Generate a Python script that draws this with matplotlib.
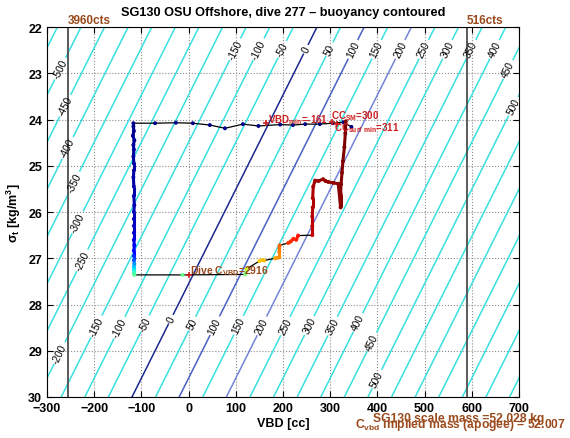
import numpy as np
import matplotlib
matplotlib.use("Agg")
import matplotlib.pyplot as plt
from matplotlib.collections import LineCollection

plt.rcParams['font.family'] = ['Liberation Sans', 'DejaVu Sans']
plt.rcParams['mathtext.fontset'] = 'custom'
plt.rcParams['mathtext.rm'] = 'Liberation Sans'
plt.rcParams['mathtext.bf'] = 'Liberation Sans:bold'
plt.rcParams['mathtext.default'] = 'bf'

# dive track: VBD [cc], sigma_t [kg/m^3], elapsed time [min]
surf_vbd = [345, 328, 305, 278, 247, 221, 194, 148, 115, 77, 45, 9, -27, -71, -117]
surf_sig = [24.16, 24.06, 24.08, 24.10, 24.10, 24.12, 24.11, 24.14, 24.10, 24.19, 24.12, 24.08, 24.07, 24.08, 24.08]
surf_t = [0, 0.2, 0.4, 0.6, 0.8, 1.0, 1.2, 1.4, 1.6, 1.8, 2.0, 2.2, 2.4, 2.6, 2.8]

desc_vbd = [-117, -116, -118, -115, -117, -116, -117, -116, -116, -117, -116, -116, -115, -116,
            -116, -116, -116, -116, -115, -116, -116, -116, -115, -116, -116, -115, -116, -115]
desc_sig = [24.15, 24.25, 24.35, 24.45, 24.55, 24.65, 24.8, 24.95, 25.1, 25.25, 25.45, 25.65, 25.85, 26.0,
            26.15, 26.3, 26.45, 26.6, 26.72, 26.84, 26.95, 27.04, 27.12, 27.19, 27.25, 27.3, 27.33, 27.36]
desc_t = [3, 3.5, 4, 4.5, 5, 5.5, 6, 6.5, 7, 7.5, 8, 8.5, 9, 10,
          11, 12, 14, 17, 21, 26, 33, 42, 54, 64, 72, 80, 86, 92]

apo_vbd = [-13, 120]
apo_sig = [27.36, 27.35]
apo_t = [95, 100]

climb_vbd = [123, 150, 156, 160, 183, 188, 192, 192, 192, 193, 211, 216, 222, 228, 232,
             262, 262, 262, 263, 263, 264, 268, 275, 285, 290, 296, 307, 317,
             322, 322, 323, 325, 327, 330, 332, 333]
climb_sig = [27.23, 27.06, 27.04, 27.05, 27.0, 26.99, 26.98, 26.86, 26.78, 26.72, 26.67, 26.64, 26.58, 26.6, 26.51,
             26.5, 26.3, 26.1, 25.9, 25.7, 25.45, 25.32, 25.33, 25.29, 25.33, 25.35, 25.37, 25.39,
             25.9, 25.6, 25.4, 25.15, 24.9, 24.6, 24.3, 24.04]
climb_t = [120, 138, 140, 142, 148, 150, 152, 155, 158, 161, 170, 172, 174, 176, 178,
           188, 189, 190, 191, 192, 193, 194, 194.5, 195, 195.5, 196, 196.5, 197,
           197.5, 198, 198.5, 199, 199.3, 199.6, 199.8, 200]

title = 'SG130 OSU Offshore, dive 277 \u2013 buoyancy contoured'
brown = '#9a4a1c'
red = '#cc1f1f'

fig = plt.figure(figsize=(5.7, 4.39), dpi=100)
ax = fig.add_axes([0.0825, 0.0934, 0.828, 0.8428])
ax.set_xlim(-300, 700)
ax.set_ylim(30, 22)

# buoyancy field (g) over VBD and density
vv, ss = np.meshgrid(np.linspace(-450, 850, 261), np.linspace(20.5, 31.5, 111))
buoy = vv + 120 - 49.0 * (30 - ss)
levels = np.arange(-650, 901, 50)
cols = []
for lv in levels:
    if lv == 0:
        cols.append('#1b2a8e')
    elif lv == 100:
        cols.append('#4a5ec8')
    elif lv == 200:
        cols.append('#7483d8')
    else:
        cols.append('#38e0e0')
cs = ax.contour(vv, ss, buoy, levels=levels, colors=cols, linewidths=1.1)

label_pos = [(-272, 22.9), (-262, 23.7), (-251, 24.64), (-245, 25.35), (-236, 26.22), (-230, 27.02),
             (-262, 29.11),
             (98, 22.48), (148, 22.48), (198, 22.48), (248, 22.48), (298, 22.48), (348, 22.48),
             (398, 22.48), (448, 22.48), (498, 22.48), (548, 22.48), (598, 22.48), (648, 22.48),
             (675, 22.91), (687, 23.71),
             (-192, 28.49), (-141, 28.53), (-92, 28.42), (-39, 28.31), (9, 28.42), (56, 28.46),
             (109, 28.46), (155, 28.46), (204, 28.46), (257, 28.46), (304, 28.46), (357, 28.38),
             (389, 28.81), (399, 29.61)]
ax.clabel(cs, manual=label_pos, fmt='%d', fontsize=7.3,
          colors='k', inline=True, inline_spacing=2)

ax.grid(True, linestyle=':', color='0.55', linewidth=0.8)

# limits of the VBD pot
ax.axvline(-255, color='0.3', lw=1.3)
ax.axvline(590, color='0.3', lw=1.3)
ax.text(-255, 21.97, '3960cts', color=brown, fontsize=8.5, fontweight='bold', va='bottom')
ax.text(590, 21.97, '516cts', color=brown, fontsize=8.5, fontweight='bold', va='bottom')

# track
vbd = np.array(surf_vbd + desc_vbd + apo_vbd + climb_vbd, dtype=float)
sig = np.array(surf_sig + desc_sig + apo_sig + climb_sig, dtype=float)
tt = np.array(surf_t + desc_t + apo_t + climb_t, dtype=float)
norm = plt.Normalize(0, 200)
cmap = plt.get_cmap('jet')
ax.plot(vbd, sig, color='k', lw=0.9, zorder=4)
pts = np.column_stack([vbd, sig])
segs = np.stack([pts[:-1], pts[1:]], axis=1)
near = np.abs(np.diff(vbd)) < 15
lc = LineCollection(segs[near], colors=cmap(norm(tt[:-1][near])), linewidths=2.2, zorder=5)
ax.add_collection(lc)
ax.scatter(vbd, sig, c=tt, cmap=cmap, norm=norm, s=8, zorder=6, edgecolors='none')

# markers and annotations
ax.plot([164], [24.08], '+', color=red, ms=5, mew=1.2, zorder=7)
ax.plot([303], [24.06], '+', color=red, ms=5, mew=1.2, zorder=7)
ax.plot([314], [24.1], '+', color=red, ms=5, mew=1.2, zorder=7)
ax.plot([1.5], [27.37], '+', color=red, ms=5, mew=1.2, zorder=7)
ax.text(169, 24.06, r'VBD$_{min}$=-161', color=red, fontsize=7, fontweight='bold', zorder=8)
ax.text(301, 23.97, r'CC$_{SM}$=300', color=red, fontsize=7, fontweight='bold', zorder=8)
ax.text(307, 24.24, r'CC$_{surf\ min}$=311', color=red, fontsize=7, fontweight='bold', zorder=8)
ax.text(3, 27.33, r'Dive C$_{VBD}$=2916', color=brown, fontsize=7.5, fontweight='bold', zorder=8)

ax.text(390, 30.33, 'SG130 scale mass =52.028 kg', color=brown, fontsize=8.7,
        fontweight='bold', va='top', clip_on=False)
ax.text(352, 30.41, r'C$_{vbd}$ implied mass (apogee) = 52.007', color=brown, fontsize=8.7,
        fontweight='bold', va='top', clip_on=False)

ax.set_xticks(np.arange(-300, 701, 100))
ax.set_yticks(np.arange(22, 31, 1))
ax.tick_params(direction='in', top=True, right=True, length=4, labelsize=9)
for lab in ax.get_xticklabels() + ax.get_yticklabels():
    lab.set_fontweight('bold')
ax.set_xlabel('VBD [cc]', fontsize=9, fontweight='bold', labelpad=2)
ax.set_ylabel(r'$\sigma_t$ [kg/m$^3$]', fontsize=9, fontweight='bold', labelpad=4)
ax.set_title(title, fontsize=9.2, fontweight='bold', pad=9)

fig.savefig('out.png', dpi=100)
